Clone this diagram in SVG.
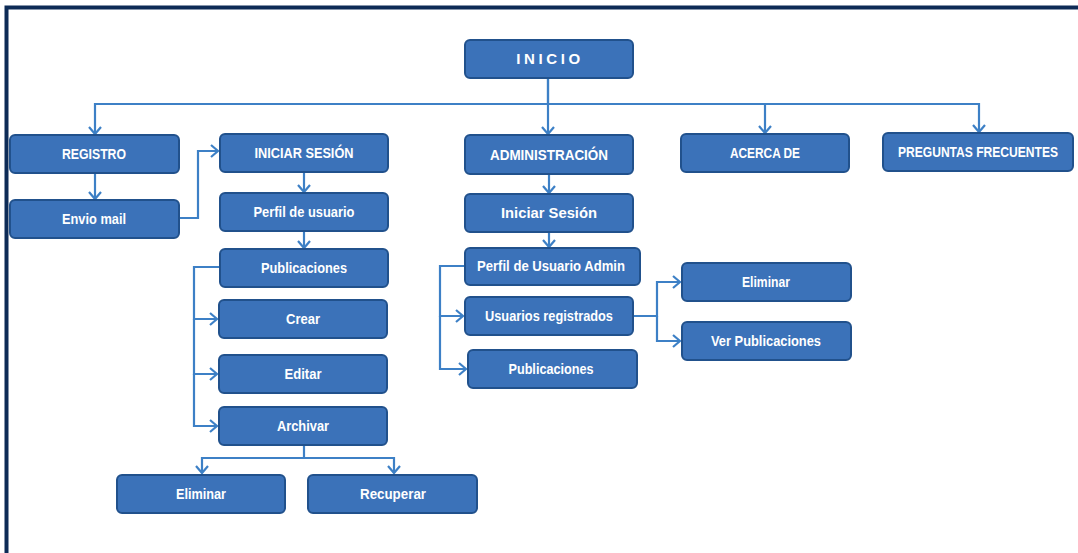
<svg xmlns="http://www.w3.org/2000/svg" width="1078" height="553" viewBox="0 0 1078 553">
<style>
.box{fill:#3b72b9;stroke:#21518c;stroke-width:2}
.lbl{font-family:"Liberation Sans",Arial,sans-serif;font-weight:bold;font-size:15px;fill:#ffffff;text-anchor:middle}
.con{fill:none;stroke:#3d80c6;stroke-width:2.2}
</style>
<defs>
<marker id="ah" markerUnits="userSpaceOnUse" markerWidth="12" markerHeight="14" refX="8" refY="7" orient="auto" viewBox="0 0 12 14">
<path d="M1,1 L8,7 L1,13" fill="none" stroke="#3d80c6" stroke-width="2.2"/>
</marker>
</defs>
<rect x="0" y="0" width="1078" height="553" fill="#ffffff"/>
<path d="M6.5,553 V7.5 H1078" fill="none" stroke="#0d2b56" stroke-width="4"/>

<g id="connectors">
<path class="con" d="M548,78 V104 H95 V134" marker-end="url(#ah)"/>
<path class="con" d="M548,78 V134" marker-end="url(#ah)"/>
<path class="con" d="M548,104 H765 V133" marker-end="url(#ah)"/>
<path class="con" d="M765,104 H979 V132" marker-end="url(#ah)"/>
<path class="con" d="M95,173 V199" marker-end="url(#ah)"/>
<path class="con" d="M179,218 H198 V151 H218" marker-end="url(#ah)"/>
<path class="con" d="M304,172 V192" marker-end="url(#ah)"/>
<path class="con" d="M304,231 V248" marker-end="url(#ah)"/>
<path class="con" d="M219,267 H194 V319 H217" marker-end="url(#ah)"/>
<path class="con" d="M194,319 V374 H217" marker-end="url(#ah)"/>
<path class="con" d="M194,374 V426 H217" marker-end="url(#ah)"/>
<path class="con" d="M304,445 V458 H202 V473" marker-end="url(#ah)"/>
<path class="con" d="M304,458 H394 V473" marker-end="url(#ah)"/>
<path class="con" d="M549,174 V193" marker-end="url(#ah)"/>
<path class="con" d="M549,232 V247" marker-end="url(#ah)"/>
<path class="con" d="M465,266 H440 V316 H463" marker-end="url(#ah)"/>
<path class="con" d="M440,316 V369 H466" marker-end="url(#ah)"/>
<path class="con" d="M633,316 H657 V282 H680" marker-end="url(#ah)"/>
<path class="con" d="M657,316 V341 H680" marker-end="url(#ah)"/>
</g>

<g id="inicio"><rect class="box" x="465" y="40" width="168" height="38" rx="5"/><text class="lbl" x="550" y="64" font-size="12.5" letter-spacing="3.6">INICIO</text></g>
<g id="registro"><rect class="box" x="10" y="135" width="169" height="38" rx="5"/><text class="lbl" x="94" y="159" textLength="64" lengthAdjust="spacingAndGlyphs">REGISTRO</text></g>
<g id="envio"><rect class="box" x="10" y="200" width="169" height="38" rx="5"/><text class="lbl" x="94" y="224" textLength="64" lengthAdjust="spacingAndGlyphs">Envio mail</text></g>
<g id="iniciar-sesion"><rect class="box" x="220" y="134" width="168" height="38" rx="5"/><text class="lbl" x="304" y="158" textLength="99" lengthAdjust="spacingAndGlyphs">INICIAR SESIÓN</text></g>
<g id="perfil-usuario"><rect class="box" x="220" y="193" width="168" height="38" rx="5"/><text class="lbl" x="304" y="217" textLength="101" lengthAdjust="spacingAndGlyphs">Perfil de usuario</text></g>
<g id="publicaciones"><rect class="box" x="220" y="249" width="168" height="38" rx="5"/><text class="lbl" x="304" y="273" textLength="86" lengthAdjust="spacingAndGlyphs">Publicaciones</text></g>
<g id="crear"><rect class="box" x="219" y="300" width="168" height="38" rx="5"/><text class="lbl" x="303" y="324" textLength="34" lengthAdjust="spacingAndGlyphs">Crear</text></g>
<g id="editar"><rect class="box" x="219" y="355" width="168" height="38" rx="5"/><text class="lbl" x="303" y="379" textLength="37" lengthAdjust="spacingAndGlyphs">Editar</text></g>
<g id="archivar"><rect class="box" x="219" y="407" width="168" height="38" rx="5"/><text class="lbl" x="303" y="431" textLength="52" lengthAdjust="spacingAndGlyphs">Archivar</text></g>
<g id="eliminar"><rect class="box" x="117" y="475" width="168" height="38" rx="5"/><text class="lbl" x="201" y="499" textLength="50" lengthAdjust="spacingAndGlyphs">Eliminar</text></g>
<g id="recuperar"><rect class="box" x="308" y="475" width="169" height="38" rx="5"/><text class="lbl" x="393" y="499" textLength="66" lengthAdjust="spacingAndGlyphs">Recuperar</text></g>
<g id="administracion"><rect class="box" x="465" y="135" width="168" height="39" rx="5"/><text class="lbl" x="549" y="160" textLength="118" lengthAdjust="spacingAndGlyphs">ADMINISTRACIÓN</text></g>
<g id="iniciar-sesion-admin"><rect class="box" x="465" y="194" width="168" height="38" rx="5"/><text class="lbl" x="549" y="218" textLength="96" lengthAdjust="spacingAndGlyphs">Iniciar Sesión</text></g>
<g id="perfil-admin"><rect class="box" x="465" y="248" width="175" height="37" rx="5"/><text class="lbl" x="551" y="271" textLength="148" lengthAdjust="spacingAndGlyphs">Perfil de Usuario Admin</text></g>
<g id="usuarios-registrados"><rect class="box" x="465" y="297" width="168" height="38" rx="5"/><text class="lbl" x="549" y="321" textLength="128" lengthAdjust="spacingAndGlyphs">Usuarios registrados</text></g>
<g id="publicaciones-admin"><rect class="box" x="468" y="350" width="169" height="38" rx="5"/><text class="lbl" x="551" y="374" textLength="85" lengthAdjust="spacingAndGlyphs">Publicaciones</text></g>
<g id="eliminar-admin"><rect class="box" x="682" y="263" width="169" height="38" rx="5"/><text class="lbl" x="766" y="287" textLength="48" lengthAdjust="spacingAndGlyphs">Eliminar</text></g>
<g id="ver-publicaciones"><rect class="box" x="682" y="322" width="169" height="38" rx="5"/><text class="lbl" x="766" y="346" textLength="110" lengthAdjust="spacingAndGlyphs">Ver Publicaciones</text></g>
<g id="acerca"><rect class="box" x="681" y="134" width="168" height="38" rx="5"/><text class="lbl" x="765" y="158" textLength="70" lengthAdjust="spacingAndGlyphs">ACERCA DE</text></g>
<g id="preguntas"><rect class="box" x="883" y="133" width="190" height="38" rx="5"/><text class="lbl" x="978" y="157" font-size="12.5" textLength="160" lengthAdjust="spacingAndGlyphs">PREGUNTAS FRECUENTES</text></g>
</svg>
